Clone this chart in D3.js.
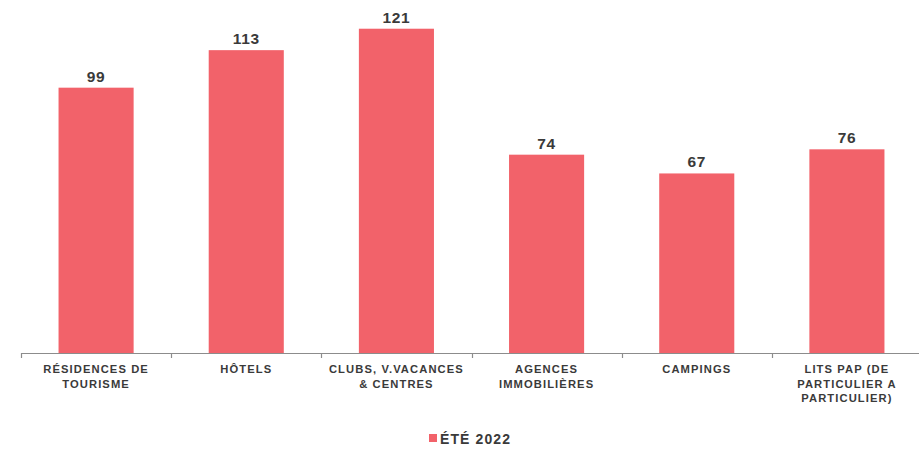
<!DOCTYPE html>
<html><head><meta charset="utf-8">
<script src="https://cdn.jsdelivr.net/npm/d3@7"></script>
<style>body{margin:0;background:#fff}svg{display:block}</style>
</head><body>
<svg id="c" width="919" height="449"></svg>
<script>
const categories = [
  ["RÉSIDENCES DE","TOURISME"],
  ["HÔTELS"],
  ["CLUBS, V.VACANCES","& CENTRES"],
  ["AGENCES","IMMOBILIÈRES"],
  ["CAMPINGS"],
  ["LITS PAP (DE","PARTICULIER A","PARTICULIER)"]
];
const values = [99, 113, 121, 74, 67, 76];
const seriesName = "ÉTÉ 2022";

const svg = d3.select("#c");
const color = "#F2626A";
const textColor = "#3a3a3a";
const baseY = 353;
const keys = categories.map((c,i)=>i);
const x = d3.scaleBand().domain(keys).range([21, 922]).paddingInner(0.5).paddingOuter(0.25);
const y = d3.scaleLinear().domain([0, 140]).range([baseY, baseY - 2.68*140]);

svg.selectAll("rect.bar").data(values).join("rect")
  .attr("class","bar")
  .attr("x",(d,i)=>x(i)).attr("width",x.bandwidth())
  .attr("y",d=>y(d)).attr("height",d=>y(0)-y(d))
  .attr("fill",color);

svg.selectAll("text.val").data(values).join("text")
  .attr("class","val")
  .attr("x",(d,i)=>x(i)+x.bandwidth()/2)
  .attr("y",d=>y(d)-6)
  .attr("text-anchor","middle")
  .attr("font-family","Liberation Sans, Arial, sans-serif")
  .attr("font-weight","bold").attr("font-size",15.5)
  .attr("letter-spacing",0.6)
  .attr("fill",textColor).text(d=>d);

// axis
const step = x.step();
const ax = svg.append("g");
ax.append("line").attr("x1",21).attr("x2",919).attr("y1",baseY+0.5).attr("y2",baseY+0.5)
  .attr("stroke","#8c8c8c").attr("stroke-width",1.2);
keys.forEach(i=>{
  const tx = Math.round(x(i) - (step - x.bandwidth())/2)+0.5;
  ax.append("line").attr("x1",tx).attr("x2",tx).attr("y1",baseY).attr("y2",baseY+5)
    .attr("stroke","#8c8c8c").attr("stroke-width",1.2);
});

const labels = svg.selectAll("text.cat").data(categories).join("text")
  .attr("class","cat")
  .attr("text-anchor","middle")
  .attr("font-family","Liberation Sans, Arial, sans-serif")
  .attr("font-weight","bold").attr("font-size",11.2)
  .attr("letter-spacing",1.1)
  .attr("fill",textColor);
labels.each(function(lines,i){
  const t = d3.select(this);
  lines.forEach((l,j)=>{
    t.append("tspan").attr("x",x(i)+x.bandwidth()/2).attr("y",373+j*14.5).text(l);
  });
});

// legend
const lg = svg.append("g");
lg.append("rect").attr("x",429).attr("y",434).attr("width",8).attr("height",8).attr("fill",color);
lg.append("text").attr("x",440).attr("y",443.5)
  .attr("font-family","Liberation Sans, Arial, sans-serif")
  .attr("font-weight","bold").attr("font-size",14)
  .attr("letter-spacing",1.1)
  .attr("fill",textColor).text(seriesName);
</script>
</body></html>
